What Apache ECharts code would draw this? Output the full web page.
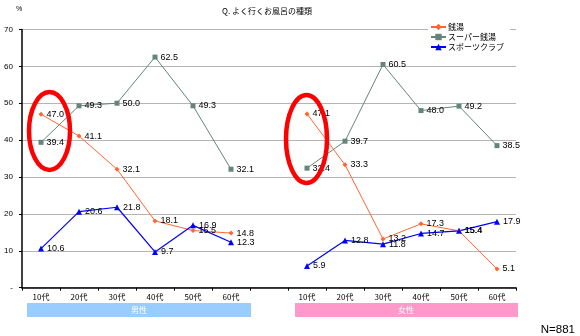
<!DOCTYPE html>
<html><head><meta charset="utf-8">
<script src="https://cdn.jsdelivr.net/npm/echarts@6/dist/echarts.min.js"></script>
<style>html,body{margin:0;padding:0;background:#fff}#c{width:580px;height:336px}</style>
</head><body><div id="c"></div>
<script>
// ---- data ----
const ageLabels = ['10代','20代','30代','40代','50代','60代','','10代','20代','30代','40代','50代','60代'];
const sentou      = [47.0, 41.1, 32.1, 18.1, 15.5, 14.8, null, 47.1, 33.3, 13.2, 17.3, 15.4, 5.1];
const superSentou = [39.4, 49.3, 50.0, 62.5, 49.3, 32.1, null, 32.4, 39.7, 60.5, 48.0, 49.2, 38.5];
const sportsClub  = [10.6, 20.6, 21.8,  9.7, 16.9, 12.3, null,  5.9, 12.8, 11.8, 14.7, 15.4, 17.9];
const seriesNames = ['銭湯', 'スーパー銭湯', 'スポーツクラブ'];
const groupLabels = ['男性', '女性'];
const titleText = 'Q. よく行くお風呂の種類';
const sampleText = 'N=881';

const jp = '"Noto Sans CJK JP", sans-serif';
const num = '"Liberation Sans", Arial, sans-serif';

const chart = echarts.init(document.getElementById('c'), null, {renderer: 'canvas'});

function labelCfg() {
  return {
    show: true, position: 'right', distance: 3,
    fontSize: 9, fontFamily: num, color: '#000',
    formatter: p => (p.value == null ? '' : Number(p.value).toFixed(1))
  };
}

chart.setOption({
  animation: false,
  backgroundColor: '#fff',
  title: {
    text: titleText, left: 217, top: 2,
    textStyle: {fontSize: 8, fontWeight: 'normal', color: '#000', fontFamily: jp}
  },
  legend: {
    orient: 'vertical', left: 428, top: 21,
    padding: [2, 6, 2, 2], itemGap: 2, itemWidth: 15, itemHeight: 8,
    backgroundColor: '#fff',
    textStyle: {fontSize: 8, color: '#000', fontFamily: jp, padding: [0, 0, 0, -3]},
    data: seriesNames
  },
  grid: {left: 22, right: 64, top: 29.4, bottom: 48.3, containLabel: false},
  xAxis: {
    type: 'category', data: ageLabels, boundaryGap: true,
    axisLine: {lineStyle: {color: '#000', width: 1.5}},
    axisTick: {show: true, interval: 0, length: 3, lineStyle: {color: '#000'}},
    axisLabel: {interval: 0, margin: 5, fontSize: 8, color: '#000', fontFamily: jp},
    splitLine: {show: false}
  },
  yAxis: {
    type: 'value', min: 0, max: 70, interval: 10,
    axisLine: {show: true, lineStyle: {color: '#000', width: 1.5}},
    axisTick: {show: true, length: 3, lineStyle: {color: '#000'}},
    axisLabel: {margin: 9, fontSize: 8, color: '#000', fontFamily: num,
      formatter: v => (v === 0 ? '-' : String(v))},
    splitLine: {show: true, lineStyle: {color: '#b4b4b4', width: 1}}
  },
  series: [
    {
      name: seriesNames[0], type: 'line', data: sentou, connectNulls: false,
      symbol: 'diamond', symbolSize: 5,
      itemStyle: {color: '#ff6633'}, lineStyle: {color: '#ff6633', width: 1},
      label: labelCfg()
    },
    {
      name: seriesNames[1], type: 'line', data: superSentou, connectNulls: false,
      symbol: 'rect', symbolSize: 5,
      itemStyle: {color: '#658579'}, lineStyle: {color: '#658579', width: 1},
      label: labelCfg()
    },
    {
      name: seriesNames[2], type: 'line', data: sportsClub, connectNulls: false,
      symbol: 'triangle', symbolSize: 6,
      itemStyle: {color: '#0000ff'}, lineStyle: {color: '#0000ff', width: 1.2},
      label: labelCfg()
    }
  ],
  graphic: [
    {type: 'text', left: 16, top: 6, style: {text: '%', fontSize: 7, fill: '#000', fontFamily: num}},
    {type: 'rect', shape: {x: 27, y: 303, width: 224, height: 14}, style: {fill: '#99ccff'}},
    {type: 'text', x: 139, y: 310, style: {text: groupLabels[0], fontSize: 8, fill: '#fff', fontFamily: jp, align: 'center', verticalAlign: 'middle'}},
    {type: 'rect', shape: {x: 295, y: 303, width: 223, height: 14}, style: {fill: '#ff99cc'}},
    {type: 'text', x: 406, y: 310, style: {text: groupLabels[1], fontSize: 8, fill: '#fff', fontFamily: jp, align: 'center', verticalAlign: 'middle'}},
    {type: 'text', x: 575, y: 336, style: {text: sampleText, fontSize: 11.5, fill: '#000', fontFamily: num, align: 'right', verticalAlign: 'bottom'}},
    {type: 'ellipse', shape: {cx: 49.5, cy: 131, rx: 20.5, ry: 39}, style: {fill: null, stroke: '#ff0000', lineWidth: 4.5}, z: 100},
    {type: 'ellipse', shape: {cx: 306.5, cy: 139, rx: 20.5, ry: 44}, style: {fill: null, stroke: '#ff0000', lineWidth: 4.5}, z: 100}
  ]
});
</script>
</body></html>
